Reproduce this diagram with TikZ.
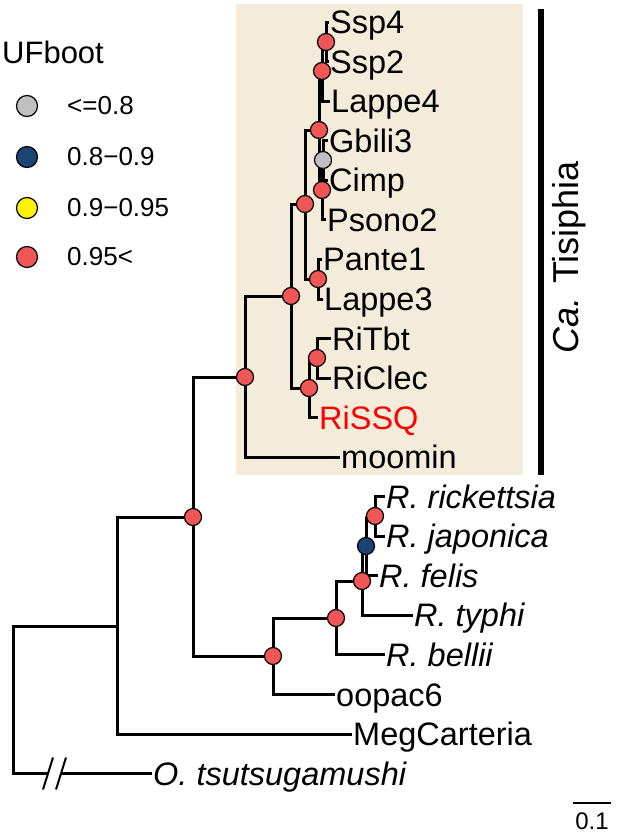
\documentclass[tikz,border=0pt]{standalone}
\usepackage{fontspec}
\setmainfont{Liberation Sans}
\usetikzlibrary{backgrounds}
\definecolor{hired}{RGB}{241,86,86}
\definecolor{midblue}{RGB}{26,68,116}
\definecolor{lowgray}{RGB}{192,192,192}
\definecolor{boxbeige}{RGB}{243,236,218}
\tikzstyle{rn}=[circle, draw, line width=1.2pt, fill=hired, inner sep=0pt, minimum size=17pt]
\tikzstyle{bn}=[rn, fill=midblue]
\tikzstyle{gn}=[rn, fill=lowgray]
\tikzstyle{yn}=[rn, fill=yellow]
\tikzstyle{lf}=[anchor=west, inner sep=1pt, text height=23pt, text depth=0pt, font=\fontsize{32.5}{32.5}\selectfont]
\tikzstyle{lg}=[anchor=west, inner sep=0pt, font=\fontsize{26}{26}\selectfont]
\tikzstyle{br}=[line width=3pt]

\begin{document}
\begin{tikzpicture}[x=1pt,y=-1pt]
\useasboundingbox (0,0) rectangle (624,833);
% tips
\node[lf] (ssp4) at (329,22) {Ssp4};
\node[lf] (ssp2) at (329,61.5) {Ssp2};
\node[lf] (lappe4) at (330,101) {Lappe4};
\node[lf] (gbili3) at (328,140.5) {Gbili3};
\node[lf] (cimp) at (328,180) {Cimp};
\node[lf] (psono2) at (326,219.5) {Psono2};
\node[lf] (pante1) at (322,259) {Pante1};
\node[lf] (lappe3) at (323,299) {Lappe3};
\node[lf] (ritbt) at (331,338.5) {RiTbt};
\node[lf] (riclec) at (331,378) {RiClec};
\node[lf, text=red] (rissq) at (318,417.5) {RiSSQ};
\node[lf] (moomin) at (340,457) {moomin};
\node[lf] (rrick) at (385,496.5) {\textit{R. rickettsia}};
\node[lf] (rjap) at (385,536) {\textit{R. japonica}};
\node[lf] (rfel) at (378,575.5) {\textit{R. felis}};
\node[lf] (rtyp) at (413,615) {\textit{R. typhi}};
\node[lf] (rbel) at (385,654.5) {\textit{R. bellii}};
\node[lf] (oopac6) at (335,694.5) {oopac6};
\node[lf] (megc) at (352,734) {MegCarteria};
\node[lf] (ots) at (152,773.5) {\textit{O. tsutsugamushi}};
% internal nodes
\node[rn] (n1) at (326,42) {};
\node[rn] (n2) at (322,71) {};
\node[gn] (n4) at (323,160) {};
\node[rn] (n5) at (322,190) {};
\node[rn] (n3) at (319,130) {};
\node[rn] (n7) at (318,279) {};
\node[rn] (n6) at (305,204) {};
\node[rn] (n10) at (317,358) {};
\node[rn] (n9) at (309,388) {};
\node[rn] (n8) at (291,296) {};
\node[rn] (n11) at (245,377) {};
\node[rn] (n12) at (375,516) {};
\node[bn] (n13) at (366,546) {};
\node[rn] (n14) at (362,581) {};
\node[rn] (n15) at (336,618) {};
\node[rn] (n16) at (273,656) {};
\node[rn] (n17) at (193,517) {};
\coordinate (h) at (117,626);
\coordinate (root) at (13,700);
\coordinate (ct1) at (48,773.5);
\coordinate (ct2) at (61,773.5);
% clade bar
\coordinate (bt) at (541,9);
\coordinate (bb) at (541,475);
\draw[line width=6pt] (bt) -- (bb);
\node[rotate=90, font=\fontsize{36}{36}\selectfont] (clade) at (569,257) {\textit{Ca.} Tisiphia};
% legend
\node[anchor=west, inner sep=0pt, font=\fontsize{31}{31}\selectfont] (uf) at (2,52) {UFboot};
\node[gn, minimum size=21pt] (k1) at (27,106) {};
\node[bn, minimum size=21pt] (k2) at (27,157) {};
\node[yn, minimum size=21pt] (k3) at (27,208) {};
\node[rn, minimum size=21pt] (k4) at (27,257) {};
\node[lg] (t1) at (67,106) {<=0.8};
\node[lg] (t2) at (67,157) {0.8−0.9};
\node[lg] (t3) at (67,208) {0.9−0.95};
\node[lg] (t4) at (67,257) {0.95<};
% scale
\coordinate (s1) at (573,803);
\coordinate (s2) at (611,803);
\draw[line width=2pt] (s1) -- (s2);
\node[font=\fontsize{24}{24}\selectfont] (sl) at (592,821) {0.1};

\begin{pgfonlayer}{background}
\fill[boxbeige] (236,4) rectangle (523,475);
\draw[br] (n1) |- (ssp4.west) (n1) |- (ssp2.west);
\draw[br] (n2) |- (n1) (n2) |- (lappe4.west);
\draw[br] (n4) |- (gbili3.west) (n4) |- (cimp.west);
\draw[br] (n5) |- (n4) (n5) |- (psono2.west);
\draw[br] (n3) |- (n2) (n3) |- (n5);
\draw[br] (n7) |- (pante1.west) (n7) |- (lappe3.west);
\draw[br] (n6) |- (n3) (n6) |- (n7);
\draw[br] (n10) |- (ritbt.west) (n10) |- (riclec.west);
\draw[br] (n9) |- (n10) (n9) |- (rissq.west);
\draw[br] (n8) |- (n6) (n8) |- (n9);
\draw[br] (n11) |- (n8) (n11) |- (moomin.west);
\draw[br] (n12) |- (rrick.west) (n12) |- (rjap.west);
\draw[br] (n13) |- (n12) (n13) |- (rfel.west);
\draw[br] (n14) |- (n13) (n14) |- (rtyp.west);
\draw[br] (n15) |- (n14) (n15) |- (rbel.west);
\draw[br] (n16) |- (n15) (n16) |- (oopac6.west);
\draw[br] (n17) |- (n11) (n17) |- (n16);
\draw[br] (h) |- (n17) (h) |- (megc.west);
\draw[br] (root) |- (h) (root) |- (ct1);
\draw[br] (ct2) -- (ots.west);
\draw[line width=2pt] (ct1) ++(-5,16) -- ++(10,-32);
\draw[line width=2pt] (ct2) ++(-5,16) -- ++(10,-32);
\end{pgfonlayer}
\end{tikzpicture}
\end{document}
